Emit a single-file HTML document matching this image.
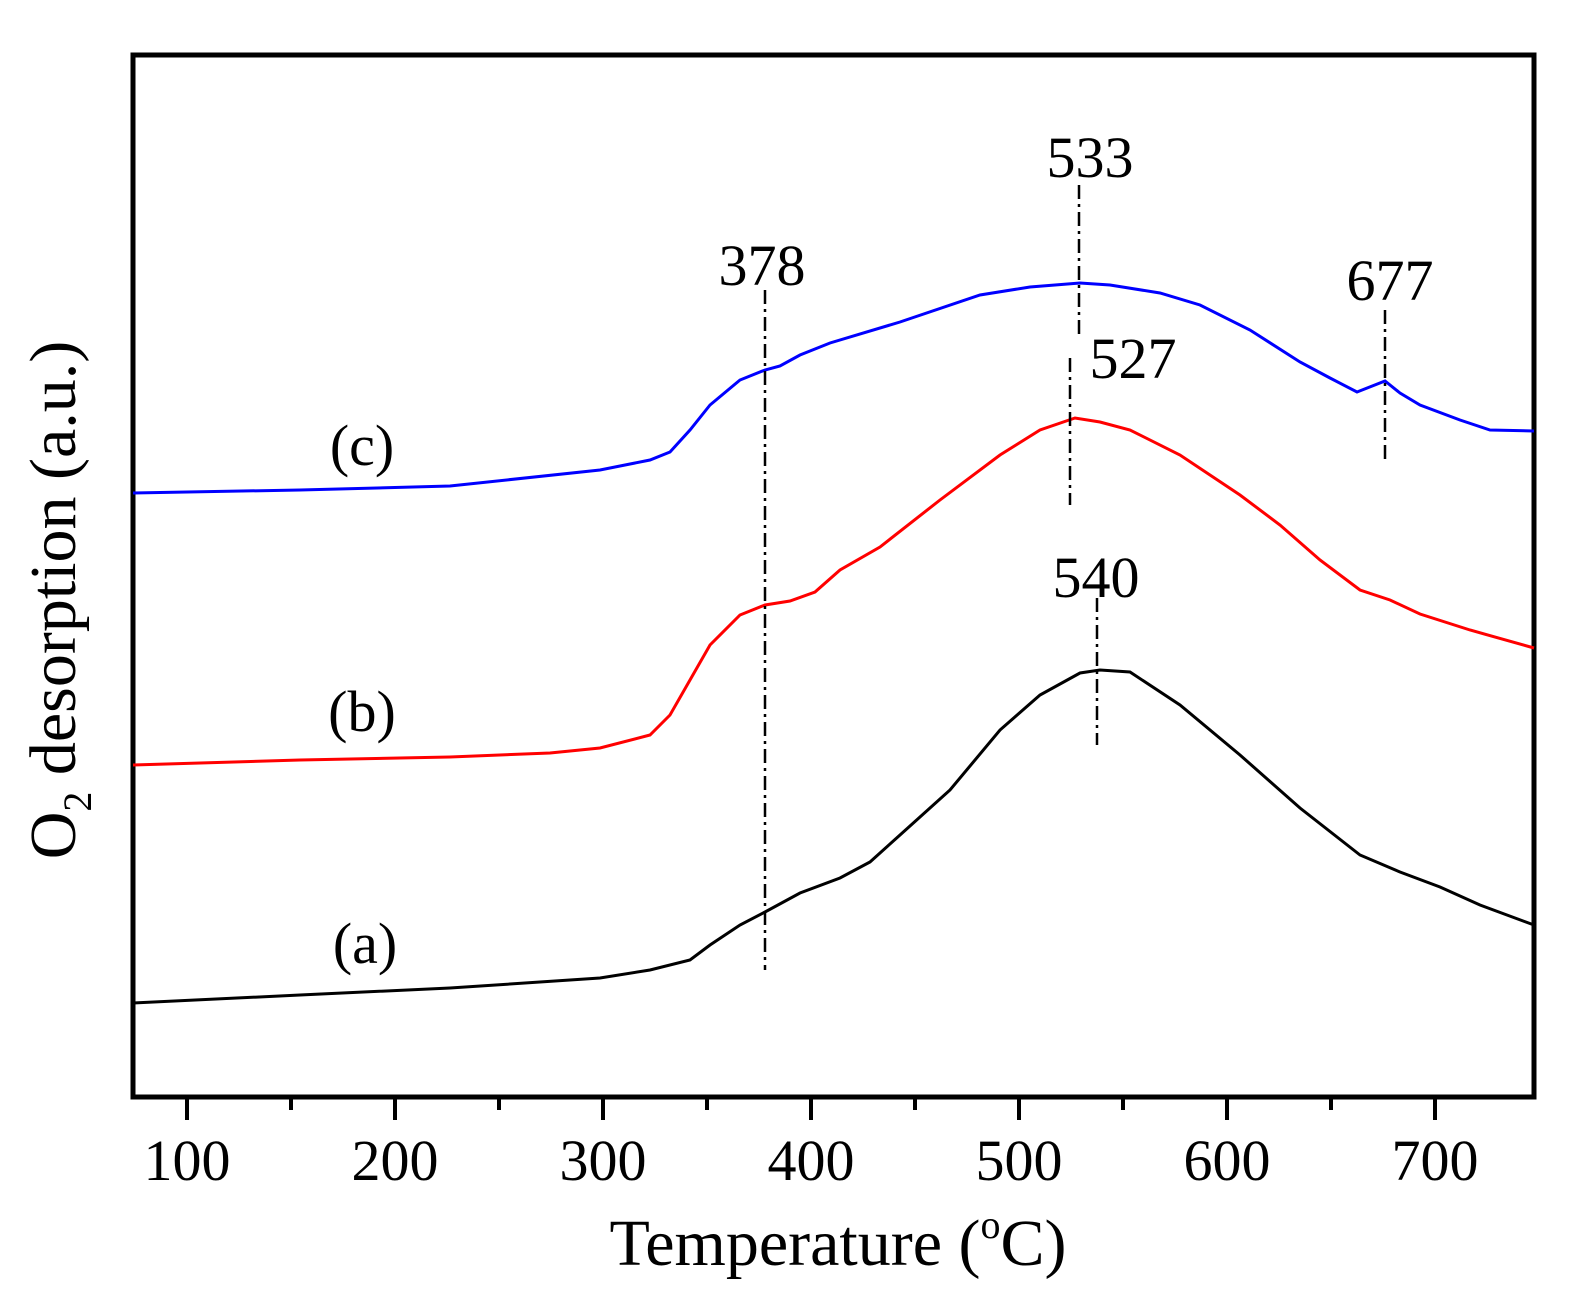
<!DOCTYPE html>
<html><head><style>body{margin:0;background:#fff}svg{display:block}</style></head><body>
<svg width="1587" height="1292" viewBox="0 0 1587 1292" xmlns="http://www.w3.org/2000/svg" font-family="Liberation Serif, serif">
<rect x="133" y="55" width="1401" height="1042" fill="none" stroke="#000" stroke-width="5"/>
<g stroke="#000" stroke-width="4">
<line x1="187" y1="1097" x2="187" y2="1120"/><line x1="291" y1="1097" x2="291" y2="1110"/>
<line x1="395" y1="1097" x2="395" y2="1120"/><line x1="499" y1="1097" x2="499" y2="1110"/>
<line x1="603" y1="1097" x2="603" y2="1120"/><line x1="707" y1="1097" x2="707" y2="1110"/>
<line x1="811" y1="1097" x2="811" y2="1120"/><line x1="915" y1="1097" x2="915" y2="1110"/>
<line x1="1019" y1="1097" x2="1019" y2="1120"/><line x1="1123" y1="1097" x2="1123" y2="1110"/>
<line x1="1227" y1="1097" x2="1227" y2="1120"/><line x1="1331" y1="1097" x2="1331" y2="1110"/>
<line x1="1435" y1="1097" x2="1435" y2="1120"/>
</g>
<g font-size="58" text-anchor="middle">
<text x="187" y="1180">100</text><text x="395" y="1180">200</text><text x="603" y="1180">300</text>
<text x="811" y="1180">400</text><text x="1019" y="1180">500</text><text x="1227" y="1180">600</text>
<text x="1435" y="1180">700</text>
</g>
<text x="838" y="1265" font-size="66" text-anchor="middle">Temperature (<tspan font-size="40" dy="-27">o</tspan><tspan dy="27">C)</tspan></text>
<text transform="translate(75,600) rotate(-90)" font-size="66" text-anchor="middle">O<tspan font-size="40" dy="16">2</tspan><tspan dy="-16"> desorption (a.u.)</tspan></text>
<g fill="none" stroke-width="3">
<polyline stroke="#0000ff" points="133,493 300,490 450,486 600,470 650,460 670,452 690,430 710,405 740,380 765,370 780,366 800,355 830,343 900,322 980,295 1030,287 1080,283 1110,285 1160,293 1200,305 1250,330 1300,362 1330,378 1357,392 1385,381 1400,393 1420,405 1460,420 1490,430 1534,431"/>
<polyline stroke="#ff0000" points="133,765 300,760 450,757 550,753 600,748 650,735 670,715 690,680 710,645 740,615 765,605 790,601 815,592 840,570 880,547 940,500 1000,455 1040,430 1075,418 1100,422 1130,430 1180,455 1240,495 1280,525 1320,560 1360,590 1390,600 1420,614 1470,630 1534,648"/>
<polyline stroke="#000" points="133,1003 300,995 450,988 600,978 650,970 690,960 710,945 740,925 765,912 800,893 840,878 870,862 900,835 950,790 1000,730 1040,695 1080,673 1100,670 1130,672 1180,705 1240,755 1300,808 1360,855 1400,872 1440,887 1480,905 1534,925"/>
</g>
<g stroke="#000" stroke-width="2.5" stroke-dasharray="14,5,3,5">
<line x1="765" y1="290" x2="765" y2="970"/>
<line x1="1079" y1="185" x2="1079" y2="335"/>
<line x1="1070" y1="358" x2="1070" y2="505"/>
<line x1="1097" y1="598" x2="1097" y2="745"/>
<line x1="1385" y1="310" x2="1385" y2="460"/>
</g>
<g font-size="58" text-anchor="middle">
<text x="762" y="285">378</text><text x="1090" y="177">533</text><text x="1133" y="378">527</text>
<text x="1096" y="597">540</text><text x="1390" y="300">677</text>
<text x="362" y="465">(c)</text><text x="362" y="731">(b)</text><text x="365" y="963">(a)</text>
</g>
</svg>
</body></html>
